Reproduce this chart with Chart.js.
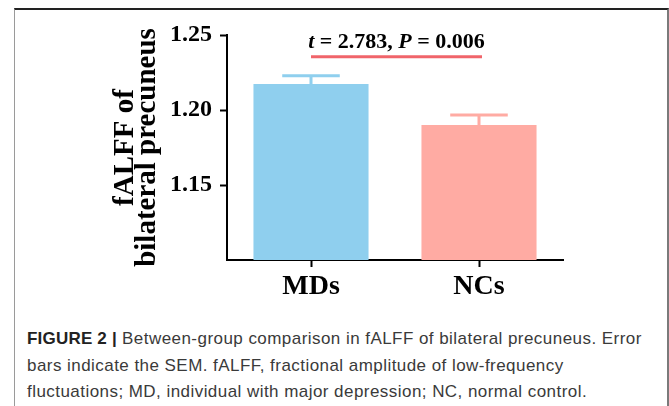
<!DOCTYPE html>
<html>
<head>
<meta charset="utf-8">
<script src="https://cdn.jsdelivr.net/npm/chart.js@4.4.1/dist/chart.umd.min.js"></script>
<style>
  html, body { margin: 0; padding: 0; background: #fff; }
  body { width: 669px; height: 406px; position: relative; overflow: hidden; }
  #frame {
    position: absolute; left: 14px; top: 8px; width: 652px; height: 420px;
    border-top: 2px solid #222; border-left: 1px solid #9a9a9a; border-right: 2px solid #7a7a7a;
  }
  #plot { position: absolute; left: 0; top: 0; width: 669px; height: 300px; }
  #caption {
    position: absolute; left: 27px; top: 326px; width: 635px;
    font-family: "Liberation Sans", Arial, sans-serif; font-size: 17px; line-height: 26.7px;
    letter-spacing: 0.45px; color: #3a3a3a; white-space: nowrap;
  }
  #caption b { color: #222; letter-spacing: 0.2px; }
</style>
</head>
<body>
<div id="frame"></div>
<div id="plot"><canvas id="chart"></canvas></div>
<div id="caption">
  <b>FIGURE 2 |</b> Between-group comparison in fALFF of bilateral precuneus. Error<br>
  bars indicate the SEM. fALFF, fractional amplitude of low-frequency<br>
  fluctuations; MD, individual with major depression; NC, normal control.
</div>
<script>
// data
const groups = ['MDs', 'NCs'];
const means = [1.2173, 1.1900];
const sems = [0.0056, 0.0067];
const yTicks = [1.15, 1.20, 1.25];
const yMin = 1.10;
const yMax = 1.25;

// significance annotation
const statParts = [
  { text: 't', italic: true },
  { text: ' = 2.783, ', italic: false },
  { text: 'P', italic: true },
  { text: ' = 0.006', italic: false }
];
const sigLineValue = 1.2355;
const sigTextValue = 1.2452;

const barColors = ['#8fcfee', '#ffaba3'];
const serif = '"Liberation Serif", "Times New Roman", serif';

const errorBars = {
  id: 'errorBars',
  afterDatasetsDraw(chart) {
    const ctx = chart.ctx;
    const y = chart.scales.y;
    const meta = chart.getDatasetMeta(0);
    ctx.save();
    meta.data.forEach((bar, i) => {
      const top = y.getPixelForValue(means[i] + sems[i]);
      const half = bar.width / 4;
      ctx.strokeStyle = barColors[i];
      ctx.lineWidth = 3;
      ctx.beginPath();
      ctx.moveTo(bar.x, bar.y);
      ctx.lineTo(bar.x, top);
      ctx.moveTo(bar.x - half, top);
      ctx.lineTo(bar.x + half, top);
      ctx.stroke();
    });
    ctx.restore();
  }
};

const significance = {
  id: 'significance',
  afterDraw(chart) {
    const ctx = chart.ctx;
    const x = chart.scales.x;
    const y = chart.scales.y;
    const x0 = x.getPixelForValue(0);
    const x1 = x.getPixelForValue(1) + 3;
    const ly = y.getPixelForValue(sigLineValue);
    ctx.save();
    ctx.strokeStyle = '#f0646a';
    ctx.lineWidth = 3;
    ctx.beginPath();
    ctx.moveTo(x0, ly);
    ctx.lineTo(x1, ly);
    ctx.stroke();

    // text with italic t and P
    const fontFor = p => (p.italic ? 'italic ' : '') + 'bold 22px ' + serif;
    let total = 0;
    statParts.forEach(p => { ctx.font = fontFor(p); total += ctx.measureText(p.text).width; });
    let tx = (x0 + x1) / 2 - total / 2;
    const ty = y.getPixelForValue(sigTextValue);
    ctx.fillStyle = '#000';
    ctx.textBaseline = 'middle';
    ctx.textAlign = 'left';
    statParts.forEach(p => {
      ctx.font = fontFor(p);
      ctx.fillText(p.text, tx, ty);
      tx += ctx.measureText(p.text).width;
    });
    ctx.restore();
  }
};

new Chart(document.getElementById('chart'), {
  type: 'bar',
  data: {
    labels: groups,
    datasets: [{
      data: means,
      backgroundColor: barColors,
      borderWidth: 0,
      categoryPercentage: 1,
      barPercentage: 0.685
    }]
  },
  options: {
    responsive: true,
    maintainAspectRatio: false,
    animation: false,
    layout: { padding: { left: 100, top: 35, right: 106, bottom: 0 } },
    plugins: { legend: { display: false }, tooltip: { enabled: false } },
    scales: {
      x: {
        afterFit: s => { s.height = 40; },
        grid: { offset: false, drawOnChartArea: false, tickLength: 7, tickWidth: 2, tickColor: '#000' },
        border: { color: '#000', width: 2 },
        ticks: { color: '#000', padding: 3, font: { family: serif, size: 28, weight: 'bold' } }
      },
      y: {
        min: yMin,
        max: yMax,
        afterFit: s => { s.width = 127; },
        afterBuildTicks: s => { s.ticks = yTicks.map(v => ({ value: v })); },
        grid: { drawOnChartArea: false, tickLength: 7, tickWidth: 2, tickColor: '#000' },
        border: { color: '#000', width: 2 },
        ticks: {
          color: '#000', padding: 8,
          font: { family: serif, size: 24, weight: 'bold' },
          callback: v => v.toFixed(2)
        },
        title: {
          display: true,
          text: ['fALFF of', 'bilateral precuneus'],
          color: '#000',
          padding: { top: 14, bottom: 0 },
          font: { family: serif, size: 29, weight: 'bold', lineHeight: 0.76 }
        }
      }
    }
  },
  plugins: [errorBars, significance]
});
</script>
</body>
</html>
